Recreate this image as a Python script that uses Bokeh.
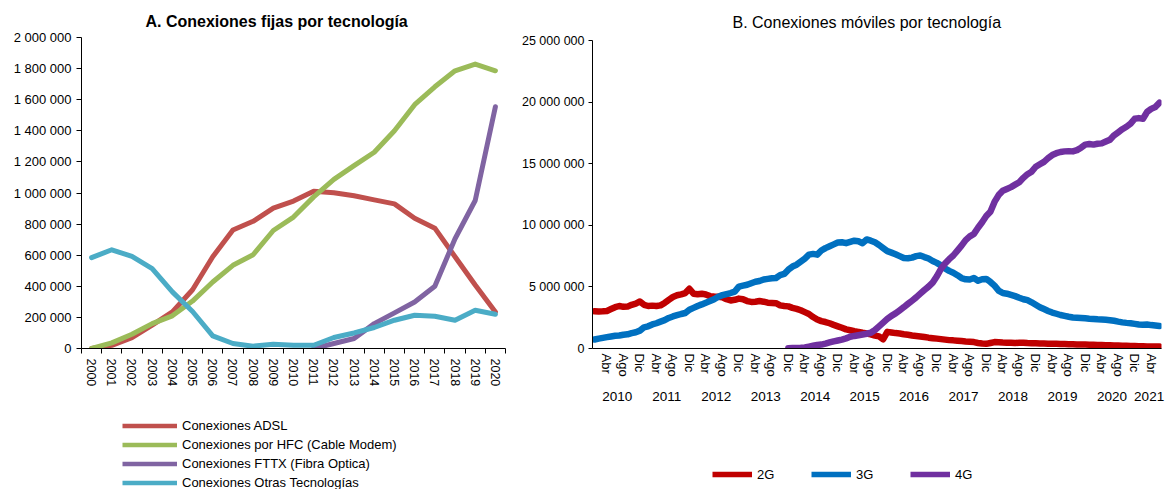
import numpy as np
import pandas as pd
from bokeh.plotting import figure
from bokeh.models import FixedTicker, Legend, LegendItem, LinearAxis, Range1d, Title
from bokeh.layouts import row, column
from bokeh.embed import file_html
from bokeh.resources import INLINE

# ---------------- A. Conexiones fijas por tecnología ----------------
anios_fijas = [str(y) for y in range(2000, 2021)]
adsl = [0, 20000, 70000, 150000, 235000, 378000, 590000, 762000, 818000, 903000, 948000,
        1012000, 1002000, 982000, 956000, 930000, 838000, 774000, 590000, 408000, 235000]
hfc = [0, 36000, 92000, 160000, 210000, 305000, 428000, 535000, 603000, 759000, 845000,
       975000, 1088000, 1176000, 1262000, 1400000, 1568000, 1683000, 1786000, 1829000, 1786000]
fttx = [np.nan] * 11 + [0, 32000, 64000, 160000, 229000, 299000, 400000, 706000, 952000, 1555000]
otras = [584000, 635000, 592000, 513000, 364000, 238000, 81000, 32000, 15000, 28000, 21000,
         21000, 71000, 100000, 135000, 182000, 214000, 207000, 182000, 246000, 220000]
nombres_fijas = ["Conexiones ADSL", "Conexiones por HFC (Cable Modem)",
                 "Conexiones FTTX (Fibra Optica)", "Conexiones Otras Tecnologías"]
colores_fijas = ["#C0504D", "#9BBB59", "#8064A2", "#4BACC6"]
yticks_fijas = list(range(0, 2000001, 200000))

# ---------------- B. Conexiones móviles por tecnología (millones) ----------------
g2 = [3.03, 3.00, 3.02, 3.05, 3.20, 3.35, 3.45, 3.38, 3.40, 3.55, 3.65, 3.82,
      3.55, 3.45, 3.48, 3.45, 3.50, 3.70, 3.95, 4.18, 4.32, 4.40, 4.50, 4.85,
      4.45, 4.40, 4.45, 4.38, 4.25, 4.22, 4.20, 4.15, 4.00, 3.90, 3.95, 4.05,
      4.00, 3.85, 3.78, 3.80, 3.85, 3.80, 3.72, 3.70, 3.68, 3.50, 3.45, 3.42,
      3.30, 3.22, 3.10, 2.95, 2.80, 2.55, 2.35, 2.22, 2.15, 2.05, 1.92, 1.80,
      1.68, 1.55, 1.48, 1.40, 1.35, 1.28, 1.22, 1.15, 1.05, 0.98, 0.75, 1.35,
      1.30, 1.25, 1.22, 1.16, 1.12, 1.06, 1.02, 0.98, 0.93, 0.88, 0.84, 0.80,
      0.76, 0.72, 0.68, 0.66, 0.63, 0.60, 0.57, 0.55, 0.52, 0.45, 0.40, 0.38,
      0.45, 0.52, 0.50, 0.48, 0.47, 0.46, 0.45, 0.46, 0.46, 0.44, 0.43, 0.42,
      0.41, 0.40, 0.39, 0.38, 0.38, 0.37, 0.36, 0.35, 0.34, 0.33, 0.33, 0.32,
      0.31, 0.30, 0.29, 0.28, 0.27, 0.26, 0.25, 0.24, 0.23, 0.22, 0.21, 0.20,
      0.19, 0.18, 0.17, 0.17, 0.16, 0.16]
g3 = [0.73, 0.80, 0.86, 0.92, 0.98, 1.03, 1.06, 1.12, 1.15, 1.25, 1.32, 1.45,
      1.72, 1.80, 1.95, 2.05, 2.18, 2.30, 2.48, 2.60, 2.70, 2.80, 2.88, 3.15,
      3.30, 3.45, 3.58, 3.72, 3.85, 4.00, 4.20, 4.33, 4.42, 4.50, 4.62, 5.02,
      5.10, 5.17, 5.30, 5.42, 5.48, 5.60, 5.65, 5.70, 5.72, 5.95, 6.05, 6.40,
      6.65, 6.80, 7.05, 7.30, 7.62, 7.68, 7.62, 7.95, 8.15, 8.30, 8.45, 8.60,
      8.62, 8.55, 8.65, 8.75, 8.70, 8.55, 8.85, 8.75, 8.62, 8.40, 8.15, 7.90,
      7.78, 7.65, 7.50, 7.35, 7.32, 7.38, 7.50, 7.55, 7.42, 7.30, 7.10, 6.95,
      6.75, 6.50, 6.30, 6.15, 5.95, 5.72, 5.62, 5.60, 5.72, 5.50, 5.62, 5.65,
      5.40, 5.10, 4.70, 4.50, 4.45, 4.35, 4.25, 4.12, 4.00, 3.92, 3.75, 3.55,
      3.35, 3.20, 3.05, 2.92, 2.82, 2.72, 2.65, 2.58, 2.52, 2.50, 2.48, 2.45,
      2.42, 2.40, 2.37, 2.35, 2.33, 2.30, 2.25, 2.18, 2.12, 2.08, 2.05, 2.00,
      1.95, 1.92, 1.95, 1.90, 1.86, 1.82]
g4 = [np.nan] * 47 + [0.02,
      0.04, 0.05, 0.06, 0.08, 0.15, 0.22, 0.28, 0.32, 0.40, 0.50, 0.58, 0.65,
      0.72, 0.82, 0.95, 1.02, 1.08, 1.14, 1.20, 1.28, 1.50, 1.80, 2.10, 2.40,
      2.65, 2.85, 3.10, 3.35, 3.62, 3.88, 4.15, 4.45, 4.75, 5.02, 5.35, 5.85,
      6.45, 6.90, 7.25, 7.55, 7.95, 8.35, 8.80, 9.10, 9.30, 9.80, 10.25, 10.75,
      11.10, 11.90, 12.45, 12.80, 12.95, 13.10, 13.30, 13.50, 13.85, 14.15, 14.35, 14.75,
      14.95, 15.15, 15.45, 15.70, 15.85, 15.95, 16.00, 16.02, 16.00, 16.10, 16.30, 16.55,
      16.60, 16.55, 16.62, 16.65, 16.80, 16.95, 17.30, 17.55, 17.80, 18.00, 18.25, 18.65,
      18.70, 18.65, 19.20, 19.45, 19.60, 19.95]
nombres_moviles = ["2G", "3G", "4G"]
colores_moviles = ["#C00000", "#0070C0", "#7030A0"]
yticks_moviles = list(range(0, 25000001, 5000000))
meses_mostrados = {4: "Abr", 8: "Ago", 12: "Dic"}

fechas = pd.period_range("2010-01", "2021-06", freq="M")
assert len(g2) == len(g3) == len(g4) == len(fechas)

FONT = "Liberation Sans"


def fmt(v):
    return f"{v:,}".replace(",", " ")


def style(p):
    p.grid.visible = False
    p.outline_line_color = None
    p.background_fill_color = "white"
    p.border_fill_color = "white"
    for ax in p.axis:
        ax.axis_line_color = "black"
        ax.major_label_text_font = FONT
        ax.major_label_text_color = "black"


def legend_fig(width, height, xs, series, names, colors, lw, **kw):
    # Legend-only panel: the series are drawn in a range where they stay out of view,
    # only their legend entries are visible.
    lf = figure(width=width, height=height, x_range=Range1d(0, 1), y_range=Range1d(-2, -1),
                x_axis_type=None, y_axis_type=None, output_backend="svg",
                toolbar_location=None, min_border=0)
    lf.grid.visible = False
    lf.outline_line_color = None
    lf.border_fill_color = "white"
    items = []
    for serie, nm, col in zip(series, names, colors):
        r = lf.line(xs, serie, line_color=col, line_width=lw, line_cap="butt")
        items.append(LegendItem(label=nm, renderers=[r]))
    leg = Legend(items=items, padding=0, margin=0, border_line_color=None,
                 background_fill_alpha=0, label_text_font=FONT, label_text_font_size="13px",
                 label_text_color="black", **kw)
    lf.add_layout(leg, "center")
    return lf


# ---------------- Figure A ----------------
p1 = figure(width=513, height=400, x_range=Range1d(-0.5, 20.5), y_range=Range1d(0, 2000000),
            output_backend="svg", toolbar_location=None,
            min_border_left=81, min_border_right=8, min_border_top=37, min_border_bottom=52)
p1.title = Title(text="A. Conexiones fijas por tecnología", align="left", offset=64,
                 text_font=FONT, text_font_size="16px", text_font_style="bold",
                 text_color="black", standoff=16)
xs1 = list(range(len(anios_fijas)))
series1 = [adsl, hfc, fttx, otras]
for serie, col in zip(series1, colores_fijas):
    p1.line(xs1, serie, line_color=col, line_width=5, line_join="round", line_cap="round")
style(p1)
p1.xaxis.ticker = FixedTicker(ticks=xs1, minor_ticks=[i - 0.5 for i in range(len(xs1) + 1)])
p1.xaxis.major_label_overrides = {i: a for i, a in enumerate(anios_fijas)}
p1.xaxis.major_label_orientation = "vertical"
p1.xaxis.major_tick_line_color = None
p1.xaxis.major_tick_out = 0
p1.xaxis.major_tick_in = 0
p1.xaxis.minor_tick_out = 5
p1.xaxis.minor_tick_in = 0
p1.xaxis.minor_tick_line_color = "black"
p1.xaxis.major_label_standoff = 5
p1.xaxis.major_label_text_font_size = "12.5px"
p1.yaxis.ticker = FixedTicker(ticks=yticks_fijas)
p1.yaxis.major_label_overrides = {v: fmt(v) for v in yticks_fijas}
p1.yaxis.major_tick_out = 5
p1.yaxis.major_tick_in = 0
p1.yaxis.minor_tick_line_color = None
p1.yaxis.major_label_standoff = 5
p1.yaxis.major_label_text_font_size = "13px"

leg1 = legend_fig(513, 89, xs1, series1, nombres_fijas, colores_fijas, 4.5,
                  location=(41, -2.5), orientation="vertical", glyph_width=55,
                  glyph_height=19, label_height=19, spacing=0, label_standoff=5)

# ---------------- Figure B ----------------
n = len(fechas)
p2 = figure(width=653, height=415, x_range=Range1d(-0.5, n - 0.5), y_range=Range1d(0, 25000000),
            output_backend="svg", toolbar_location=None,
            min_border_left=79, min_border_right=5, min_border_top=40, min_border_bottom=67)
p2.title = Title(text="B. Conexiones móviles por tecnología", align="left", offset=140,
                 text_font=FONT, text_font_size="16px", text_font_style="normal",
                 text_color="black", standoff=20)
xs2 = list(range(n))
series2 = [np.array(s, dtype=float) * 1e6 for s in [g2, g3, g4]]
for vals, col in zip(series2, colores_moviles):
    p2.line(xs2, vals, line_color=col, line_width=6.5, line_join="round", line_cap="round")
style(p2)
tick_pos = [i for i, f in enumerate(fechas) if f.month in meses_mostrados]
p2.xaxis.ticker = FixedTicker(ticks=tick_pos)
p2.xaxis.major_label_overrides = {i: meses_mostrados[fechas[i].month] for i in tick_pos}
p2.xaxis.major_label_orientation = "vertical"
p2.xaxis.major_tick_line_color = None
p2.xaxis.minor_tick_line_color = None
p2.xaxis.major_tick_out = 0
p2.xaxis.major_label_standoff = 5
p2.xaxis.major_label_text_font_size = "13px"

anios = sorted(set(f.year for f in fechas))
year_pos = [float(np.mean([i for i, f in enumerate(fechas) if f.year == y])) for y in anios]
year_axis = LinearAxis(ticker=FixedTicker(ticks=year_pos),
                       major_label_overrides={p: str(y) for p, y in zip(year_pos, anios)},
                       axis_line_color=None, major_tick_line_color=None,
                       minor_tick_line_color=None, major_tick_out=0, major_label_standoff=12,
                       major_label_text_font=FONT, major_label_text_font_size="13.5px",
                       major_label_text_color="black")
p2.add_layout(year_axis, "below")

p2.yaxis.ticker = FixedTicker(ticks=yticks_moviles)
p2.yaxis.major_label_overrides = {v: fmt(v) for v in yticks_moviles}
p2.yaxis.major_tick_out = 4
p2.yaxis.major_tick_in = 0
p2.yaxis.minor_tick_line_color = None
p2.yaxis.major_label_standoff = 4
p2.yaxis.major_label_text_font_size = "12.5px"

leg2 = legend_fig(653, 74, xs2, series2, nombres_moviles, colores_moviles, 5.5,
                  location=(120, 5), orientation="horizontal", glyph_width=40,
                  glyph_height=20, label_height=20, label_width=20, spacing=34,
                  label_standoff=5)

layout = row(column(p1, leg1), column(p2, leg2))
open("out.html", "w").write(file_html(layout, INLINE))
